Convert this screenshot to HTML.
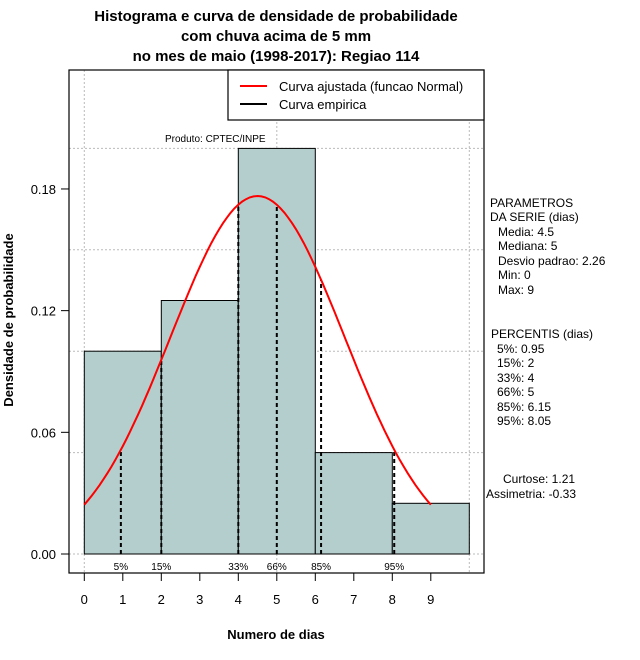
<!DOCTYPE html>
<html><head><meta charset="utf-8">
<style>
body{margin:0;background:#fff;}
svg{display:block;font-family:"Liberation Sans","DejaVu Sans",sans-serif;}
</style></head>
<body>
<svg id="chart" width="640" height="660" viewBox="0 0 640 660">
<rect width="640" height="660" fill="#fff"/>
<g font-weight="bold" font-size="15" text-anchor="middle">
<text x="276" y="21">Histograma e curva de densidade de probabilidade</text>
<text x="276" y="41">com chuva acima de 5 mm</text>
<text x="276" y="61">no mes de maio (1998-2017): Regiao 114</text>
</g>
<g id="grid"></g>
<g id="bars"></g>
<g id="qlines"></g>
<path id="curve" fill="none" stroke="#f00" stroke-width="2"/>
<rect x="69" y="70" width="415" height="503" fill="none" stroke="#000" stroke-width="1.2"/>
<g>
<rect x="228" y="70" width="256" height="50" fill="#fff" stroke="#000" stroke-width="1.2"/>
<line x1="240" y1="86" x2="267" y2="86" stroke="#f00" stroke-width="2"/>
<line x1="240" y1="104" x2="267" y2="104" stroke="#000" stroke-width="2"/>
<text x="279" y="91" font-size="13">Curva ajustada (funcao Normal)</text>
<text x="279" y="109" font-size="13">Curva empirica</text>
</g>
<text x="165" y="142" font-size="10">Produto: CPTEC/INPE</text>
<g id="xaxis"></g>
<g id="yaxis"></g>
<text x="276" y="639" font-size="13" font-weight="bold" text-anchor="middle">Numero de dias</text>
<text transform="translate(13,320) rotate(-90)" font-size="13" font-weight="bold" text-anchor="middle">Densidade de probabilidade</text>
<g font-size="12">
<text x="490" y="207">PARAMETROS</text>
<text x="490" y="221">DA SERIE (dias)</text>
<text x="498" y="236">Media: 4.5</text>
<text x="498" y="250">Mediana: 5</text>
<text x="498" y="265">Desvio padrao: 2.26</text>
<text x="498" y="279">Min: 0</text>
<text x="498" y="294">Max: 9</text>
<text x="491" y="338">PERCENTIS (dias)</text>
<text x="497" y="353">5%: 0.95</text>
<text x="497" y="367">15%: 2</text>
<text x="497" y="382">33%: 4</text>
<text x="497" y="396">66%: 5</text>
<text x="497" y="411">85%: 6.15</text>
<text x="497" y="425">95%: 8.05</text>
<text x="503" y="483">Curtose: 1.21</text>
<text x="486" y="498">Assimetria: -0.33</text>
</g>
</svg>
<script>
const binEdges=[0,2,4,6,8,10];
const binDensity=[0.1,0.125,0.2,0.05,0.025];
const pctLabels=["5%","15%","33%","66%","85%","95%"];
const pctValues=[0.95,2,4,5,6.15,8.05];
const xTicks=[0,1,2,3,4,5,6,7,8,9];
const yTicks=[0,0.06,0.12,0.18];
const yGrid=[0,0.05,0.1,0.15,0.2];
const xGrid=[0,5,10];
const fitMean=4.5, fitSd=2.26, fitMin=0, fitMax=9;
const NS="http://www.w3.org/2000/svg";
const X=v=>84.3+v*38.5;
const Y=v=>554-v*2028;
function mk(p,t,a){const e=document.createElementNS(NS,t);for(const k in a)e.setAttribute(k,a[k]);p.appendChild(e);return e;}
const dens=x=>Math.exp(-0.5*((x-fitMean)/fitSd)**2)/(fitSd*Math.sqrt(2*Math.PI));
const grid=document.getElementById('grid');
yGrid.forEach(v=>{const l=mk(grid,'line',{x1:69,x2:484,y1:Y(v),y2:Y(v),stroke:'#bbb','stroke-dasharray':'2,2'});

});
xGrid.forEach(v=>{const l=mk(grid,'line',{x1:X(v),x2:X(v),y1:70,y2:573,stroke:'#bbb','stroke-dasharray':'2,2'});

});
const bars=document.getElementById('bars');
binDensity.forEach((d,i)=>{const r=mk(bars,'rect',{x:X(binEdges[i]),y:Y(d),width:X(binEdges[i+1])-X(binEdges[i]),height:Y(0)-Y(d),fill:'#b4cdcd',stroke:'#000','stroke-width':1});

});
const q=document.getElementById('qlines');
pctValues.forEach((v,i)=>{const l=mk(q,'line',{x1:X(v),x2:X(v),y1:Y(0),y2:Y(dens(v)),stroke:'#000','stroke-width':2,'stroke-dasharray':'4,3'});


const t=mk(q,'text',{x:X(v),y:570,'font-size':10,'text-anchor':'middle'});t.textContent=pctLabels[i];

});
let d="";for(let i=0;i<=90;i++){const x=fitMin+(fitMax-fitMin)*i/90;d+=(i?"L":"M")+X(x).toFixed(1)+","+Y(dens(x)).toFixed(1);}
document.getElementById('curve').setAttribute('d',d);
const xa=document.getElementById('xaxis');
mk(xa,'line',{x1:X(0),x2:X(9),y1:573,y2:573,stroke:'#000'});
xTicks.forEach(v=>{mk(xa,'line',{x1:X(v),x2:X(v),y1:573,y2:581,stroke:'#000'});
const t=mk(xa,'text',{x:X(v),y:604,'font-size':13,'text-anchor':'middle'});t.textContent=v;

});
const ya=document.getElementById('yaxis');
mk(ya,'line',{x1:69,x2:69,y1:Y(0),y2:Y(0.18),stroke:'#000'});
yTicks.forEach(v=>{mk(ya,'line',{x1:61,x2:69,y1:Y(v),y2:Y(v),stroke:'#000'});
const t=mk(ya,'text',{x:56,y:Y(v)+5,'font-size':13,'text-anchor':'end'});t.textContent=v.toFixed(2);

});
</script>
</body></html>
